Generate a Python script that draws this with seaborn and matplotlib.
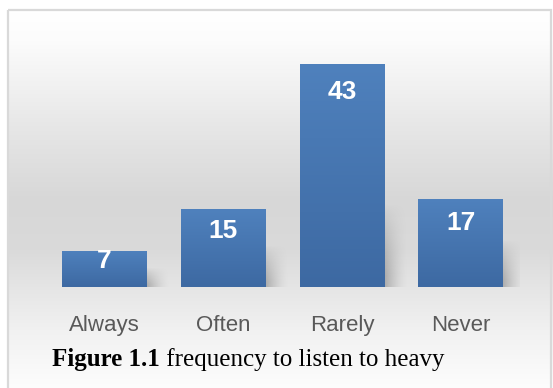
import numpy as np
import pandas as pd
import matplotlib
matplotlib.use("Agg")
import matplotlib.pyplot as plt
import seaborn as sns
from matplotlib.colors import to_rgb
from matplotlib.patches import Rectangle

categories = ["Always", "Often", "Rarely", "Never"]
values = [7, 15, 43, 17]
caption_bold = "Figure 1.1"
caption_rest = " frequency to listen to heavy"

W, H = 553, 388
DPI = 100
sns.set_theme(style="white")
plt.rcParams["font.family"] = ["Liberation Sans", "DejaVu Sans"]

fig = plt.figure(figsize=(W / DPI, H / DPI), dpi=DPI)
fig.patch.set_facecolor("white")

# background gradient (vertical) inside frame
bg = fig.add_axes([0, 0, 1, 1], zorder=0)
bg.set_axis_off()
stops = [(0, "#ffffff"), (12, "#ffffff"), (40, "#fcfcfc"), (130, "#e6e6e6"),
         (200, "#d7d7d7"), (250, "#dadada"), (290, "#e6e6e6"), (330, "#f1f1f1"),
         (388, "#fdfdfd")]
ys = np.arange(H)
sy = [s[0] for s in stops]
cols = np.array([to_rgb(s[1]) for s in stops])
grad = np.stack([np.interp(ys, sy, cols[:, k]) for k in range(3)], axis=1)
img = np.repeat(grad[:, None, :], W, axis=1)
img[:9, :, :] = 1.0
img[:, :7, :] = 1.0
bg.imshow(img, extent=[0, W, H, 0], aspect="auto", interpolation="bilinear")
bg.set_xlim(0, W)
bg.set_ylim(H, 0)
bg.add_patch(Rectangle((8, 10), 543, 400, fill=False, edgecolor="#d9d9d9", linewidth=1.6))

# main axes
base_px = 287
px_per_unit = 5.19
ymax = 50
ax_h = ymax * px_per_unit
ax_left, ax_right = 45, 520.4
ax = fig.add_axes([ax_left / W, (H - base_px) / H, (ax_right - ax_left) / W, ax_h / H], zorder=1)
ax.patch.set_alpha(0)

df = pd.DataFrame({"cat": categories, "val": values})
sns.barplot(data=df, x="cat", y="val", color="#4a7ab5", width=0.715, ax=ax,
            saturation=1, linewidth=0, edgecolor="none")
ax.set_ylim(0, ymax)
ax.set_xlim(-0.5, 3.5)

# gradient on bars
top_c = np.array(to_rgb("#4f81bd"))
bot_c = np.array(to_rgb("#3d69a2"))
gimg = np.linspace(top_c, bot_c, 100)[:, None, :]
for p in list(ax.patches):
    x0, y0 = p.get_x(), p.get_y()
    w, h = p.get_width(), p.get_height()
    im = ax.imshow(gimg, extent=[x0, x0 + w, y0, y0 + h], aspect="auto",
                   interpolation="bilinear", zorder=2)
    im.set_clip_path(p)
    # soft shadow to the right
    sh = np.zeros((60, 60, 4))
    xx = np.linspace(0, 1, 60)[None, :]
    yy = np.linspace(0, 1, 60)[:, None]
    sh[..., 0:3] = 0.42
    sh[..., 3] = 0.45 * (1 - xx) ** 1.6 * np.clip(yy * 1.3 - 0.15, 0, 1) ** 0.8
    sw = 22 / 118.8
    shh = min(h * 0.6, 18)
    ax.imshow(sh, extent=[x0 + w, x0 + w + sw, 0, shh], aspect="auto",
              interpolation="bilinear", zorder=1)
ax.set_xlim(-0.5, 3.5)
ax.set_ylim(0, ymax)

# value labels
for i, v in enumerate(values):
    hpx = v * px_per_unit
    off = min(28, 0.28 * hpx)
    ax.annotate(str(v), (i, v), xytext=(0, -off * 0.72), textcoords="offset points",
                ha="center", va="center", color="white", fontsize=19, fontweight="bold",
                zorder=5)

for s in ax.spines.values():
    s.set_visible(False)
ax.set_yticks([])
ax.set_xlabel("")
ax.set_ylabel("")
ax.tick_params(axis="x", length=0, pad=20.5, labelsize=16, labelcolor="#595959")

# caption
cap_y = 1 - 366 / H
t1 = fig.text(52 / W, cap_y, caption_bold, fontsize=18, fontweight="bold",
              family=["Liberation Serif"], va="baseline", ha="left", color="black")
fig.canvas.draw()
bb = t1.get_window_extent()
fig.text(bb.x1 / W, cap_y, caption_rest, fontsize=18,
         family=["Liberation Serif"], va="baseline", ha="left", color="black")

fig.savefig("out.png", dpi=DPI)
